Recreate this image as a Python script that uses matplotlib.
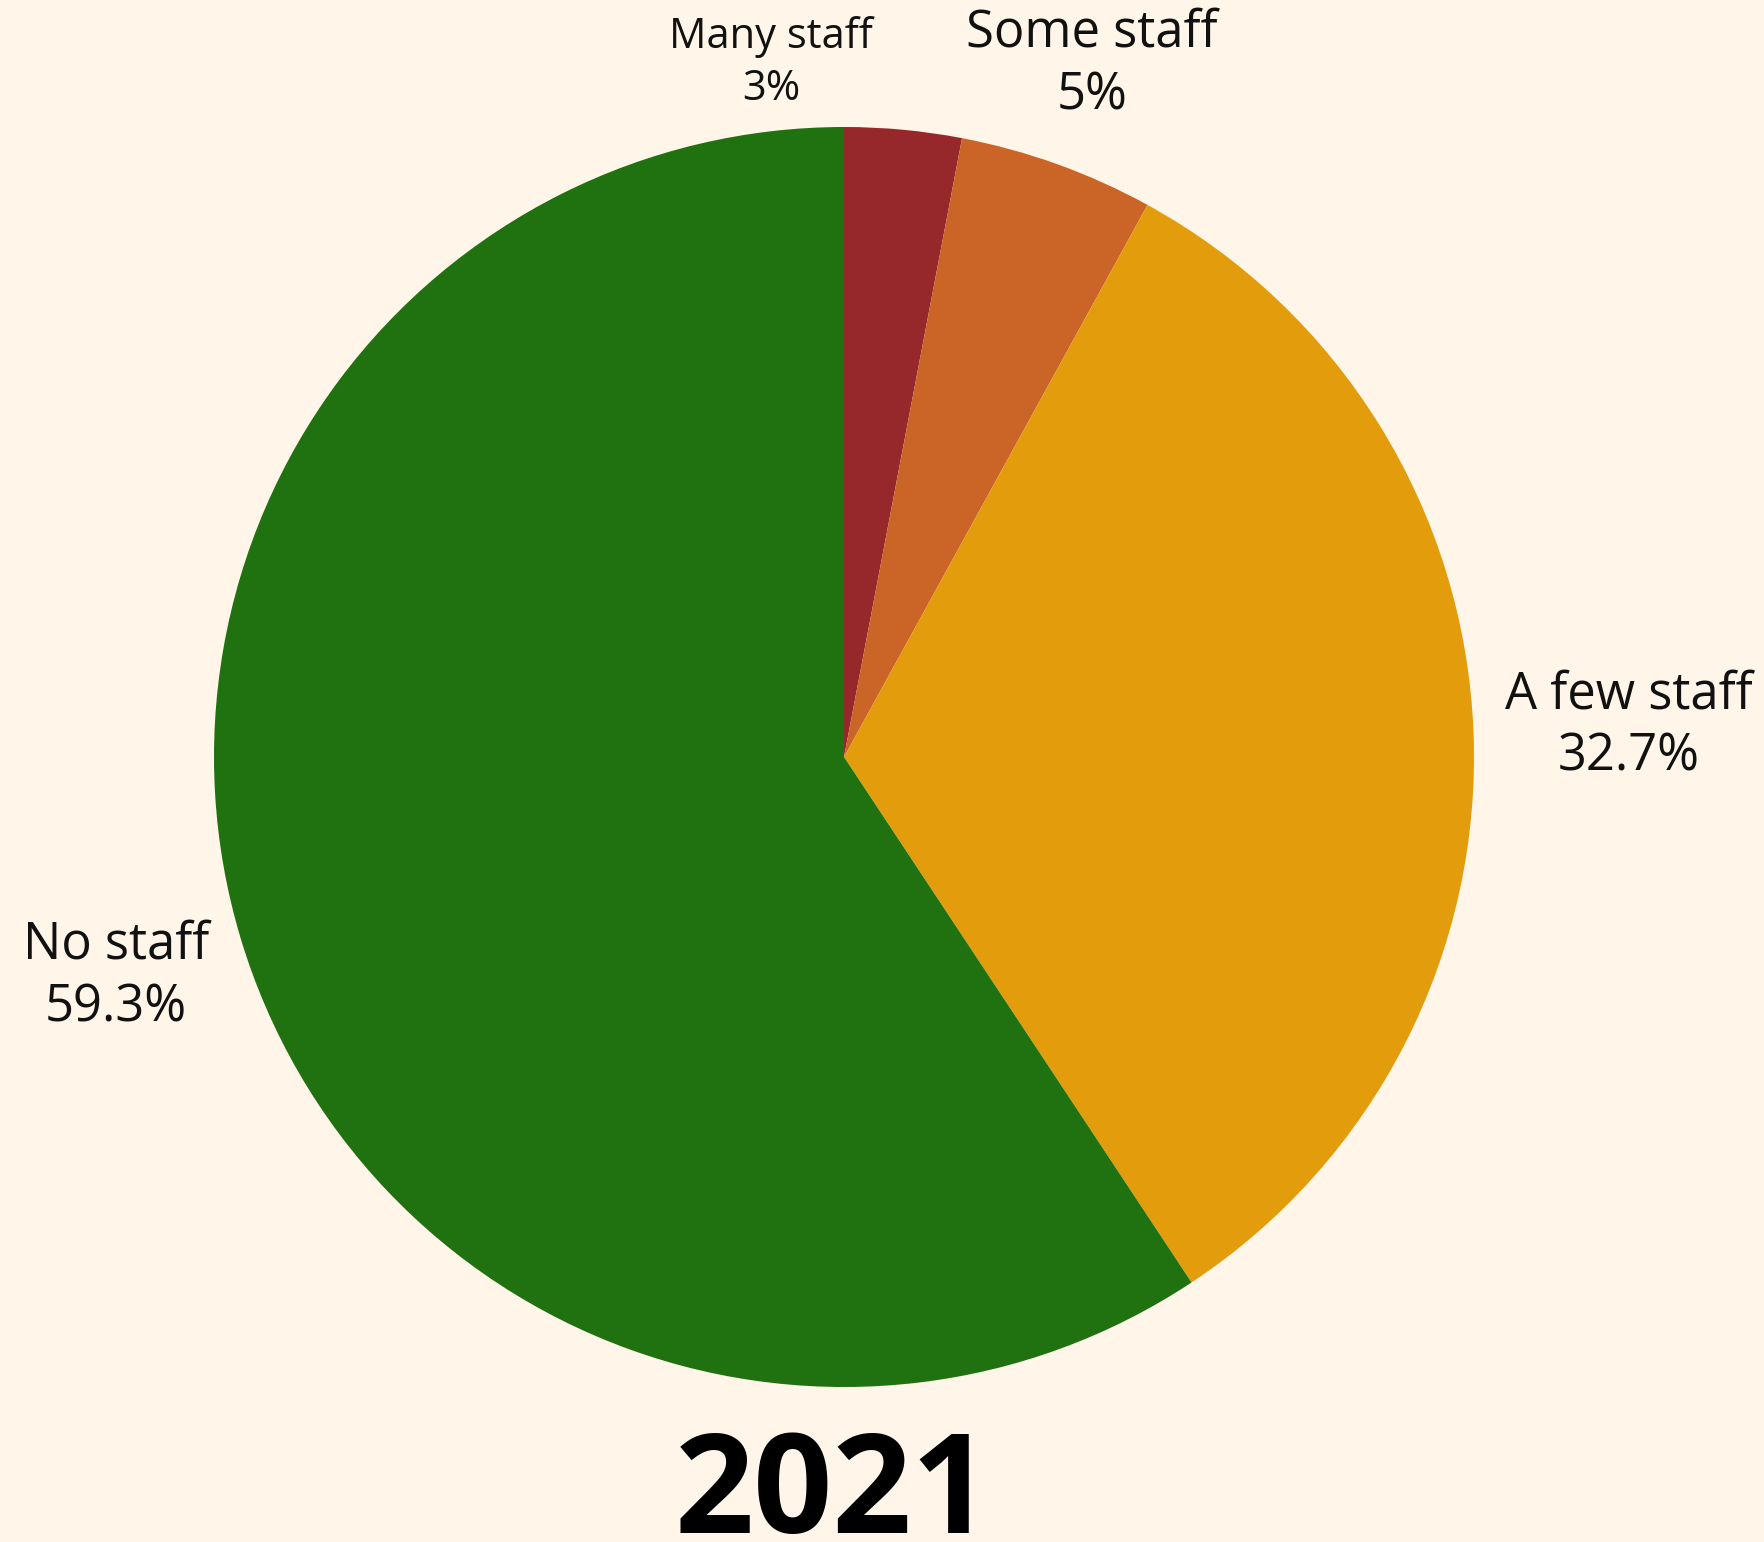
import matplotlib
matplotlib.use('Agg')
import matplotlib.pyplot as plt

# staff share, clockwise from 12 o'clock
categories = ['Many staff', 'Some staff', 'A few staff', 'No staff']
shares = [3, 5, 32.7, 59.3]
share_labels = ['3%', '5%', '32.7%', '59.3%']
colors = ['#96272A', '#CB6527', '#E39C0C', '#20710F']
year = '2021'

bg = '#FFF5E8'
W, H = 1765, 1542
fig = plt.figure(figsize=(W / 100, H / 100), dpi=100, facecolor=bg)

# pie centre / radius in pixels
cx, cy, r = 844, 757, 630
ax = fig.add_axes([(cx - r) / W, (H - cy - r) / H, 2 * r / W, 2 * r / H])
ax.set_facecolor(bg)
ax.pie(shares, colors=colors, startangle=90, counterclock=False, radius=1,
       wedgeprops=dict(linewidth=0))
ax.set_xlim(-1, 1)
ax.set_ylim(-1, 1)
ax.set_aspect('equal')
ax.axis('off')

# label positions (in pie radius units) and sizes
label_pos = [(-0.116, 1.102), (0.394, 1.099), (1.246, 0.049), (-1.156, -0.348)]
label_size = [30, 36.5, 36.5, 36.5]
for name, val, (x, y), fs in zip(categories, share_labels, label_pos, label_size):
    ax.text(x, y, name + '\n' + val, ha='center', va='center', fontsize=fs,
            family='Open Sans', color='#111111', linespacing=1.3, clip_on=False)

fig.text(833 / W, 1 - 1533 / H, year, ha='center', va='baseline', fontsize=100,
         family='Open Sans', fontweight='bold', color='black')

fig.savefig('out.png', dpi=100, facecolor=bg)
